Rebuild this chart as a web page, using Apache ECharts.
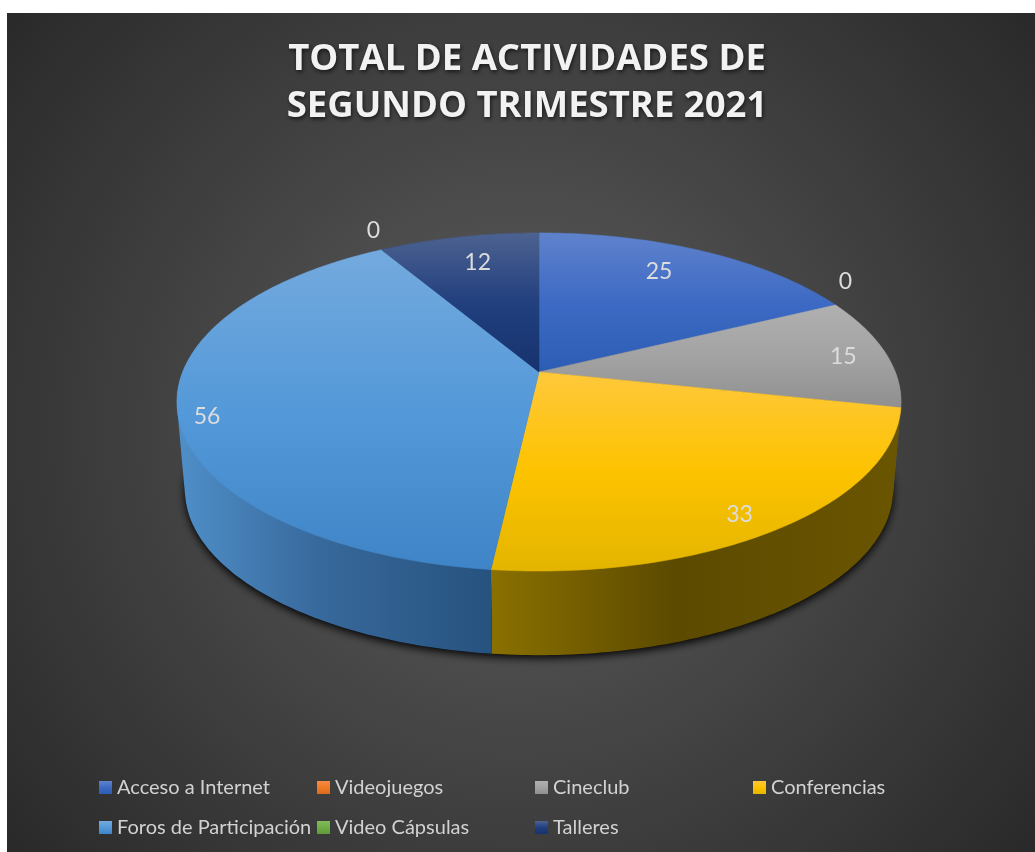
<!DOCTYPE html>
<html>
<head>
<meta charset="utf-8">
<style>html,body{margin:0;padding:0;background:#fff}#c{width:1035px;height:852px}</style>
<script src="https://cdn.jsdelivr.net/npm/echarts@6/dist/echarts.min.js"></script>
</head>
<body>
<div id="c"></div>
<script>
var titleText = 'TOTAL DE ACTIVIDADES DE\nSEGUNDO TRIMESTRE 2021';
var categories = ['Acceso a Internet','Videojuegos','Cineclub','Conferencias','Foros de Participación','Video Cápsulas','Talleres'];
var values = [25,0,15,33,56,0,12];
// top-face gradient per slice
var topColors = [
  ['#5f82cc','#3d6ac4','#2c5db3'],
  ['#f58a45','#f07a25','#d96b1e'],
  ['#b0b0b0','#a3a3a3','#8f8f8f'],
  ['#ffc83c','#fdc300','#e3b500'],
  ['#74aade','#5499d9','#3f84c6'],
  ['#7fbb58','#6fae45','#60983b'],
  ['#4d6291','#223f7e','#16336f']
];
// side-wall gradient per slice
var wallColors = [
  ['#2b4a80','#223c68','#2b4a80'],
  ['#8a4d1e','#703e18','#8a4d1e'],
  ['#6a6a6a','#555555','#5f5f5f'],
  ['#8a7000','#5c4a00','#6a5500'],
  ['#4f8fc9','#38699c','#26527e'],
  ['#46702c','#3a5c24','#46702c'],
  ['#1a2e52','#152644','#1a2e52']
];
// label placement on the disc: radius fraction and turn from the slice mid-angle
var labelRadius = [0.79,1.14,0.875,0.895,0.925,1.17,0.79];
var labelTurn = [-3.3,-6.9,0.4,2.7,-3.7,2.6,1];

var CX=539, TOP_CY=372, R=356.3, H=163.7, K=0.1775, BOT_CY=460.5, BOT_S=0.978;

var total = values.reduce(function(a,b){return a+b;},0);
var starts = [], acc = 0;
values.forEach(function(v){ starts.push(acc/total*360); acc += v; });

function project(deg, r, cy, s){
  var a = deg*Math.PI/180, x = r*Math.sin(a), y = -r*Math.cos(a), w = 1-K*y;
  return [CX + s*R*x/w, cy + s*H*y/w];
}
function arc(a0, a1, cy, s){
  var pts=[], n=Math.max(1,Math.ceil(Math.abs(a1-a0)));
  for(var i=0;i<=n;i++){ pts.push(project(a0+(a1-a0)*i/n,1,cy,s)); }
  return pts;
}
function hull(points){
  var p=points.slice().sort(function(a,b){return a[0]-b[0]||a[1]-b[1];});
  function cross(o,a,b){return (a[0]-o[0])*(b[1]-o[1])-(a[1]-o[1])*(b[0]-o[0]);}
  var lo=[],up=[];
  p.forEach(function(q){ while(lo.length>1&&cross(lo[lo.length-2],lo[lo.length-1],q)<=0)lo.pop(); lo.push(q); });
  p.slice().reverse().forEach(function(q){ while(up.length>1&&cross(up[up.length-2],up[up.length-1],q)<=0)up.pop(); up.push(q); });
  lo.pop();up.pop();
  return lo.concat(up);
}
function grad(c, horizontal, mid){
  return {type:'linear',x:0,y:0,x2:horizontal?1:0,y2:horizontal?0:1,colorStops:[
    {offset:0,color:c[0]},{offset:mid,color:c[1]},{offset:1,color:c[2]}]};
}

function sliceRenderer(i){
  return function(){
    var a0=starts[i], span=values[i]/total*360, a1=a0+span, kids=[];
    if(span>0){
      kids.push({type:'polygon',z2:1,silent:true,
        shape:{points:hull(arc(a0,a1,TOP_CY,1).concat(arc(a0,a1,BOT_CY,BOT_S)))},
        style:{fill:grad(wallColors[i],true,0.45)}});
      kids.push({type:'polygon',z2:10,silent:true,
        shape:{points:[[CX,TOP_CY]].concat(arc(a0,a1,TOP_CY,1))},
        style:{fill:grad(topColors[i],false,0.5),stroke:grad(topColors[i],false,0.5),lineWidth:0.6}});
    }
    var p=project(a0+span/2+labelTurn[i],labelRadius[i],TOP_CY,1);
    kids.push({type:'text',z2:20,silent:true,
      style:{text:String(values[i]),x:p[0],y:p[1]+1,align:'center',verticalAlign:'middle',
        fill:'#dcdcdc',fontSize:23,fontFamily:'Lato'}});
    return {type:'group',children:kids};
  };
}

var series=[{
  type:'custom',name:'shadow',coordinateSystem:'none',silent:true,data:[[1]],
  renderItem:function(){
    return {type:'polygon',z2:0,silent:true,shape:{points:arc(0,360,BOT_CY,BOT_S)},
      style:{fill:'#000',shadowColor:'rgba(0,0,0,0.95)',shadowBlur:9,shadowOffsetY:3,shadowOffsetX:0}};
  }
}];
categories.forEach(function(name,i){
  series.push({type:'custom',name:name,coordinateSystem:'none',data:[[values[i]]],
    itemStyle:{color:grad(topColors[i],false,0.5)},renderItem:sliceRenderer(i)});
});

function legendCol(left,names){
  return {orient:'vertical',left:left,top:777,padding:0,itemWidth:13,itemHeight:13,itemGap:19,icon:'rect',
    selectedMode:false,data:names,
    textStyle:{color:'#d2d2d2',fontSize:20,fontFamily:'Lato',height:21,lineHeight:21}};
}
var chart=echarts.init(document.getElementById('c'),null,{renderer:'canvas'});
chart.setOption({
  animation:false,
  backgroundColor:'#ffffff',
  title:{text:titleText,left:527,top:36,padding:0,textAlign:'center',
    textStyle:{color:'#f2f2f2',fontSize:36.5,fontWeight:'bold',fontFamily:'Open Sans',lineHeight:47,
      textShadowColor:'rgba(0,0,0,0.65)',textShadowBlur:4,textShadowOffsetX:1,textShadowOffsetY:2}},
  graphic:{elements:[{type:'rect',z:-100,silent:true,shape:{x:7,y:13,width:1028,height:839},
    style:{fill:{type:'radial',x:520,y:430,r:730,global:true,colorStops:[
      {offset:0,color:'#5e5e5e'},{offset:1,color:'#242424'}]}}}]},
  legend:[
    legendCol(99,[categories[0],categories[4]]),
    legendCol(317,[categories[1],categories[5]]),
    legendCol(535,[categories[2],categories[6]]),
    legendCol(753,[categories[3]])
  ],
  series:series
});
</script>
</body>
</html>
